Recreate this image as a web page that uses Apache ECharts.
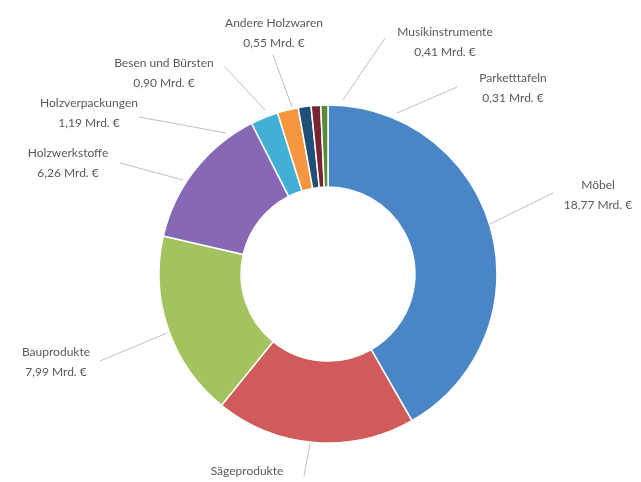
<!DOCTYPE html>
<html>
<head>
<meta charset="utf-8">
<script src="https://cdn.jsdelivr.net/npm/echarts@6/dist/echarts.min.js"></script>
<style>
html,body{margin:0;padding:0;background:#fff;}
#chart{width:641px;height:482px;}
</style>
</head>
<body>
<div id="chart"></div>
<script>
// Data
const categories = ['Möbel','Sägeprodukte','Bauprodukte','Holzwerkstoffe','Holzverpackungen','Besen und Bürsten','Andere Holzwaren','Musikinstrumente','Parketttafeln'];
const values = [18.77, 8.60, 7.99, 6.26, 1.19, 0.90, 0.55, 0.41, 0.31];
const unit = ' Mrd. €';

// Styling / layout (not data)
const colors = ['#4a86c6','#d15a5a','#a2c35e','#8668b4','#42b0d4','#f6973f','#1f4e79','#7b2431','#5a8a3a'];
// label anchor (center x, middle y) and leader line (slice point -> label point)
const labelLayoutCfg = [
  {x:598, y:195, line:[[490,224],[553,193]]},
  {x:247, y:481, line:[[318,400],[304,476]]},
  {x:56,  y:362, line:[[167,333],[100,361]]},
  {x:68,  y:163, line:[[183,180],[120,163]]},
  {x:89,  y:113, line:[[226,133],[139,117]]},
  {x:164, y:73,  line:[[265,110],[225,67]]},
  {x:274, y:33,  line:[[292,107],[273,55]]},
  {x:445, y:42,  line:[[343,100],[385,38]]},
  {x:513, y:88,  line:[[397,113],[457,87]]}
];

const fmt = v => v.toFixed(2).replace('.', ',') + unit;

const chart = echarts.init(document.getElementById('chart'), null, {renderer:'canvas'});
chart.setOption({
  backgroundColor:'#ffffff',
  animation:false,
  color: colors,
  series:[{
    type:'pie',
    center:[328,274],
    radius:[87,169],
    startAngle:90,
    clockwise:true,
    avoidLabelOverlap:false,
    itemStyle:{borderColor:'#ffffff', borderWidth:1.5},
    label:{
      show:true,
      position:'outside',
      formatter: p => p.name + '\n' + fmt(p.value),
      fontFamily:'Lato, "Open Sans", sans-serif',
      fontSize:12,
      lineHeight:20,
      color:'#595959',
      align:'center'
    },
    labelLine:{show:true, lineStyle:{color:'#bfbfbf', width:1}},
    labelLayout: function(params){
      const c = labelLayoutCfg[params.dataIndex];
      return {x:c.x, y:c.y, align:'center', verticalAlign:'middle', labelLinePoints:c.line};
    },
    emphasis:{disabled:true},
    data: categories.map((n,i)=>({name:n, value:values[i]}))
  }]
});
</script>
</body>
</html>
